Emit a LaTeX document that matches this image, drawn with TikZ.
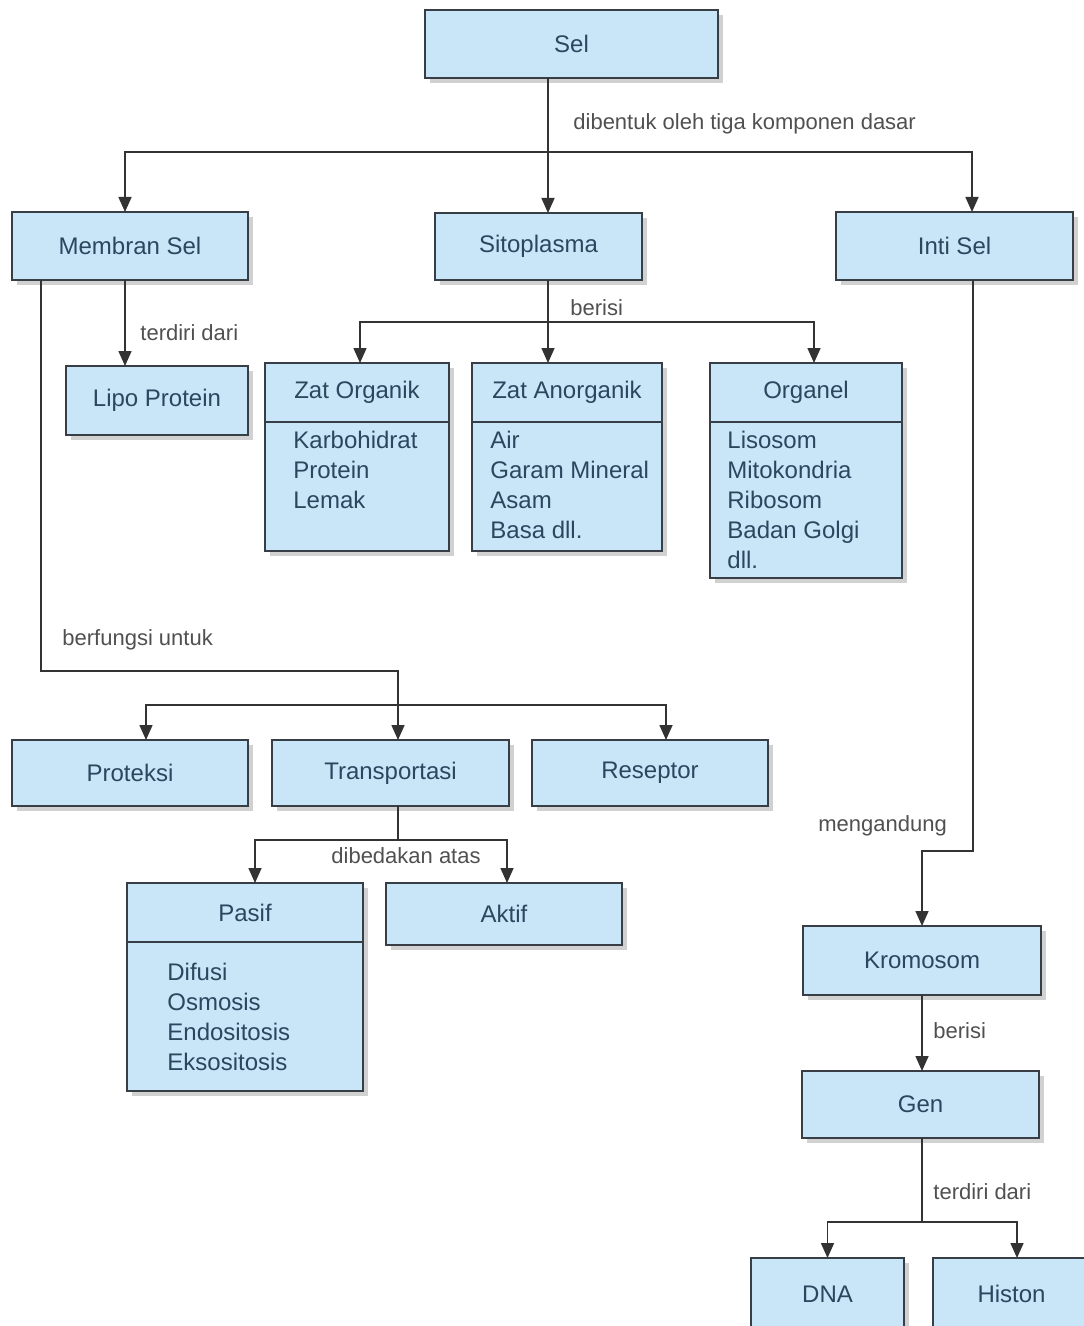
\documentclass[tikz,border=0pt]{standalone}
\usepackage{fontspec}
\setmainfont{Liberation Sans}
\usetikzlibrary{arrows.meta,shadows}
\definecolor{kotakbiru}{RGB}{200,230,248}
\definecolor{garisbox}{RGB}{55,62,70}
\definecolor{teksbiru}{RGB}{45,70,95}
\definecolor{teksabu}{RGB}{80,80,80}

\tikzset{
  kotak/.style={draw=garisbox, line width=1pt, fill=kotakbiru, text=teksbiru,
    inner sep=0pt, outer sep=0pt, font=\fontsize{12}{15}\selectfont,
    drop shadow={shadow xshift=2.5pt, shadow yshift=-2.5pt, fill=black!30, opacity=0.6}},
  isian/.style={inner sep=0pt, anchor=north west, align=left, text=teksbiru,
    font=\fontsize{12}{15}\selectfont},
  ket/.style={inner sep=0pt, anchor=west, text=teksabu, font=\fontsize{11}{13}\selectfont},
  garis/.style={draw=black!80, line width=0.8pt},
  panah/.style={garis, -{Triangle[length=7.5pt,width=6.5pt]}}
}

\begin{document}
\begin{tikzpicture}[x=0.5pt, y=-0.5pt]
\useasboundingbox (0,0) rectangle (1083,1326);

% tingkat atas
\node[kotak, minimum width=146.5pt, minimum height=34pt] (sel) at (571.5,44) {Sel};
\node[kotak, minimum width=118pt, minimum height=34pt] (membran) at (130,246) {Membran Sel};
\node[kotak, minimum width=103.5pt, minimum height=33.5pt] (sito) at (538.5,246.5) {Sitoplasma};
\node[kotak, minimum width=118.5pt, minimum height=34pt] (inti) at (954.5,246) {Inti Sel};
\node[kotak, minimum width=91pt, minimum height=34.5pt] (lipo) at (157,400.5) {Lipo Protein};

% isi sitoplasma
\node[kotak, minimum width=92pt, minimum height=29.5pt] (organik) at (357,392.5) {Zat Organik};
\node[kotak, minimum width=92pt, minimum height=64.5pt, anchor=north] (organikIsi) at (organik.south) {};
\node[isian] (organikTeks) at ([xshift=14pt,yshift=-4.5pt]organikIsi.north west) {Karbohidrat\\Protein\\Lemak};

\node[kotak, minimum width=95pt, minimum height=29.5pt] (anorganik) at (567,392.5) {Zat Anorganik};
\node[kotak, minimum width=95pt, minimum height=64.5pt, anchor=north] (anorganikIsi) at (anorganik.south) {};
\node[isian] (anorganikTeks) at ([xshift=9pt,yshift=-4.5pt]anorganikIsi.north west) {Air\\Garam Mineral\\Asam\\Basa dll.};

\node[kotak, minimum width=96pt, minimum height=29.5pt] (organel) at (806,392.5) {Organel};
\node[kotak, minimum width=96pt, minimum height=78pt, anchor=north] (organelIsi) at (organel.south) {};
\node[isian] (organelTeks) at ([xshift=8.5pt,yshift=-4.5pt]organelIsi.north west) {Lisosom\\Mitokondria\\Ribosom\\Badan Golgi\\dll.};

% fungsi membran
\node[kotak, minimum width=118pt, minimum height=33pt] (proteksi) at (130,773) {Proteksi};
\node[kotak, minimum width=118.5pt, minimum height=33pt] (transport) at (390.5,773) {Transportasi};
\node[kotak, minimum width=118pt, minimum height=33pt] (reseptor) at (650,773) {Reseptor};

\node[kotak, minimum width=118pt, minimum height=29.5pt] (pasif) at (245,912.5) {Pasif};
\node[kotak, minimum width=118pt, minimum height=74.5pt, anchor=north] (pasifIsi) at (pasif.south) {};
\node[isian] (pasifTeks) at ([xshift=20pt,yshift=-10.5pt]pasifIsi.north west) {Difusi\\Osmosis\\Endositosis\\Eksositosis};
\node[kotak, minimum width=118pt, minimum height=31pt] (aktif) at (504,914) {Aktif};

% inti sel
\node[kotak, minimum width=119pt, minimum height=34.5pt] (kromosom) at (922,960.5) {Kromosom};
\node[kotak, minimum width=118.5pt, minimum height=33.5pt] (gen) at (920.5,1104.5) {Gen};
\node[kotak, minimum width=76.5pt, minimum height=36pt] (dna) at (827.5,1294) {DNA};
\node[kotak, minimum width=78.5pt, minimum height=36pt] (histon) at (1011.5,1294) {Histon};

% keterangan
\foreach \teks/\px/\py [count=\i] in {
  dibentuk oleh tiga komponen dasar/573/124, terdiri dari/140/333,
  berisi/570/308, berfungsi untuk/62/640, dibedakan atas/331/856,
  mengandung/818/826, berisi/933/1031, terdiri dari/933/1192} {
    \node[ket] (ket\i) at (\px,\py) {\teks};
}

% sel -> tiga komponen
\coordinate (cabang1) at (548,152);
\draw[garis] (sel.south -| cabang1) -- (cabang1);
\draw[panah] (cabang1) -- (sito.north -| cabang1);
\draw[panah] (cabang1) -| ([xshift=-2.5pt]membran.north);
\draw[panah] (cabang1) -| ([xshift=8.75pt]inti.north);

% membran -> lipo protein
\draw[panah] ([xshift=-2.5pt]membran.south) -- ([xshift=-2.5pt]membran.south |- lipo.north);

% sitoplasma -> isi
\coordinate (cabang4) at (548,322);
\draw[garis] (sito.south -| cabang4) -- (cabang4);
\draw[panah] (cabang4) -- (anorganik.north -| cabang4);
\draw[panah] (cabang4) -| ([xshift=1.5pt]organik.north);
\draw[panah] (cabang4) -| ([xshift=4pt]organel.north);

% membran -> fungsi
\coordinate (belok1) at (398,671);
\coordinate (cabang2) at (398,705);
\draw[garis] ([xshift=14.5pt]membran.south west) |- (belok1) -- (cabang2);
\draw[panah] (cabang2) -- (transport.north -| cabang2);
\draw[panah] (cabang2) -| ([xshift=8pt]proteksi.north);
\draw[panah] (cabang2) -| ([xshift=8pt]reseptor.north);

% transportasi -> pasif, aktif
\coordinate (cabang3) at (398,840);
\draw[garis] (transport.south -| cabang3) -- (cabang3);
\draw[panah] (cabang3) -| ([xshift=5pt]pasif.north);
\draw[panah] (cabang3) -| ([xshift=1.5pt]aktif.north);

% inti sel -> kromosom -> gen
\coordinate (belok2) at (973,851);
\draw[panah] (inti.south -| belok2) -- (belok2) -| (kromosom.north);
\draw[panah] (kromosom.south) -- (kromosom.south |- gen.north);

% gen -> dna, histon
\coordinate (cabang5) at (922,1222);
\draw[garis] (gen.south -| cabang5) -- (cabang5);
\draw[panah] (cabang5) -| (dna.north);
\draw[panah] (cabang5) -| ([xshift=2.75pt]histon.north);
\end{tikzpicture}
\end{document}
